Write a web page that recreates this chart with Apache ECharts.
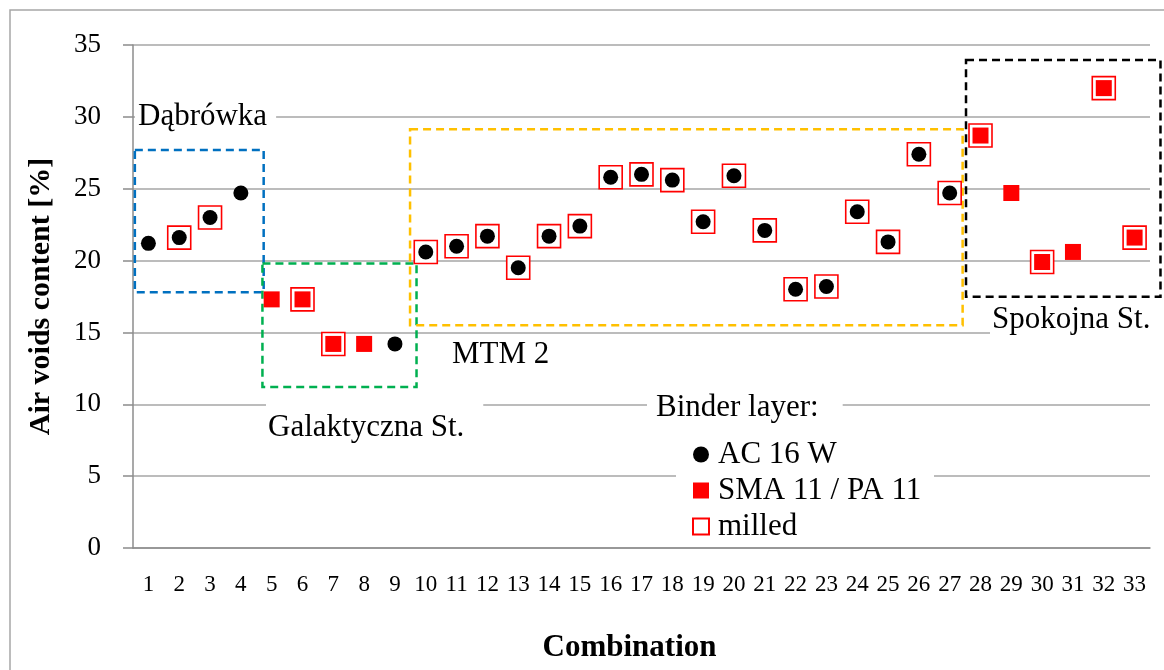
<!DOCTYPE html>
<html>
<head>
<meta charset="utf-8">
<script src="https://cdn.jsdelivr.net/npm/echarts@6/dist/echarts.min.js"></script>
<style>
html,body{margin:0;padding:0;background:#fff;}
#chart{width:1164px;height:670px;}
</style>
</head>
<body>
<div id="chart"></div>
<script>
// ---- data ----
const categories = ['1','2','3','4','5','6','7','8','9','10','11','12','13','14','15','16','17','18','19','20','21','22','23','24','25','26','27','28','29','30','31','32','33'];
const acValues  = [21.2,21.6,23.0,24.7,null,null,null,null,14.2,20.6,21.0,21.7,19.5,21.7,22.4,25.8,26.0,25.6,22.7,25.9,22.1,18.0,18.2,23.4,21.3,27.4,24.7,null,null,null,null,null,null];
const smaValues = [null,null,null,null,17.3,17.3,14.2,14.2,null,null,null,null,null,null,null,null,null,null,null,null,null,null,null,null,null,null,null,28.7,24.7,19.9,20.6,32.0,21.6];
const milledFlags = [0,1,1,0,0,1,1,0,0,1,1,1,1,1,1,1,1,1,1,1,1,1,1,1,1,1,1,1,0,1,0,1,1];
const yTicks = [0,5,10,15,20,25,30,35];
const seriesNames = ['AC 16 W','SMA 11 / PA 11','milled'];
// annotation regions: [x from, x to (category units), y from, y to (%)]
const regionBounds = [
  [0.06, 4.24, 17.8, 27.7],
  [4.2, 9.2, 11.2, 19.8],
  [8.99, 26.92, 15.5, 29.14],
  [27.03, 33.34, 17.49, 33.96]
];
const regionNames = ['Dąbrówka','Galaktyczna St.','MTM 2','Spokojna St.'];

// ---- build ----
const milledValues = categories.map((c,i)=> milledFlags[i] ? (acValues[i] != null ? acValues[i] : smaValues[i]) : null);
const regionColors = ['#0070c0','#00b050','#ffc000','#000000'];
const FONT = '"Liberation Serif", "Times New Roman", serif';

const chart = echarts.init(document.getElementById('chart'), null, {renderer:'canvas'});

function txt(text, x, y, pad){
  return {type:'text', x:x, y:y, z:5,
    style:{text:text, font:'31px ' + FONT, fill:'#000', verticalAlign:'middle', align:'left',
      backgroundColor:'#fff', padding:pad}};
}

const option = {
  animation:false,
  grid:{left:133, right:14, top:45, bottom:122},
  xAxis:[{
    type:'category', data:categories, boundaryGap:true,
    axisLine:{lineStyle:{color:'#8c8c8c', width:1.5}},
    axisTick:{length:8, lineStyle:{color:'#8c8c8c', width:1.5}},
    axisLabel:{fontFamily:FONT, fontSize:23, color:'#000', margin:25, interval:0},
    name:'Combination', nameLocation:'middle', nameGap:84,
    nameTextStyle:{fontFamily:FONT, fontSize:31, fontWeight:'bold', color:'#000', padding:[0,24,0,0]}
  },{
    type:'value', min:0, max:33, show:false
  }],
  yAxis:{
    type:'value', min:0, max:35, interval:5,
    axisLine:{show:true, lineStyle:{color:'#8c8c8c', width:1.5}},
    axisTick:{show:true, length:10, lineStyle:{color:'#8c8c8c', width:1.5}},
    splitLine:{lineStyle:{color:'#a6a6a6', width:1.5}},
    axisLabel:{fontFamily:FONT, fontSize:27, color:'#000', margin:32,
      formatter:(v)=> yTicks.indexOf(v) >= 0 ? String(v) : ''},
    name:'Air voids content [%]', nameLocation:'middle', nameGap:77,
    nameTextStyle:{fontFamily:FONT, fontSize:30, fontWeight:'bold', color:'#000'}
  },
  legend:{
    data:[seriesNames[0], seriesNames[1], seriesNames[2]],
    orient:'vertical', left:692, top:439, padding:0, itemGap:5, z:6,
    itemWidth:16, itemHeight:16, selectedMode:false,
    textStyle:{fontFamily:FONT, fontSize:31, color:'#000', padding:[0,0,0,4]}
  },
  series:[
    {
      name:seriesNames[2], type:'scatter', symbol:'rect', symbolSize:23,
      itemStyle:{color:'#ffffff', borderColor:'#ff0000', borderWidth:1.6, opacity:1},
      data:milledValues, z:2
    },
    {
      name:seriesNames[0], type:'scatter', symbol:'circle', symbolSize:15,
      itemStyle:{color:'#000000', opacity:1},
      data:acValues, z:3
    },
    {
      name:seriesNames[1], type:'scatter', symbol:'rect', symbolSize:16,
      itemStyle:{color:'#ff0000', opacity:1},
      data:smaValues, z:3
    },
    {
      name:'regions', type:'custom', xAxisIndex:1, yAxisIndex:0, clip:false, z:1,
      data:regionBounds,
      renderItem:(params, api)=>{
        const p0 = api.coord([api.value(0), api.value(3)]);
        const p1 = api.coord([api.value(1), api.value(2)]);
        return {type:'rect',
          shape:{x:p0[0], y:p0[1], width:p1[0]-p0[0], height:p1[1]-p0[1]},
          style:{fill:'none', stroke:regionColors[params.dataIndex], lineWidth:2.5, lineDash:[8,5]}};
      }
    }
  ],
  graphic:[
    {type:'rect', z:0, shape:{x:10, y:10, width:1300, height:800},
     style:{fill:'none', stroke:'#a6a6a6', lineWidth:1.5}},
    {type:'rect', z:1, shape:{x:676, y:468, width:258, height:16}, style:{fill:'#fff'}},
    txt(regionNames[0], 135, 117, [4,9,4,3]),
    txt(regionNames[1], 266, 428, [14,19,6,2]),
    txt(regionNames[2], 450, 355, [2,2,2,2]),
    txt(regionNames[3], 990, 320, [2,30,6,2]),
    txt('Binder layer:', 647, 408, [4,24,4,9])
  ]
};
chart.setOption(option);
</script>
</body>
</html>
